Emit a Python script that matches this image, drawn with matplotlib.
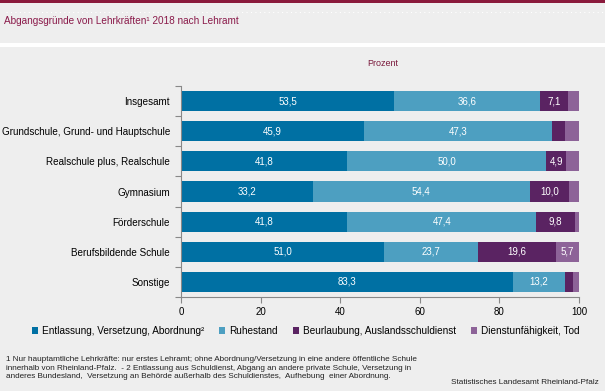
import matplotlib.pyplot as plt
import numpy as np

plt.rcParams["font.family"] = ["Liberation Sans", "DejaVu Sans"]

# Abgangsgruende nach Lehramt, Anteile in Prozent
categories = [
    "Insgesamt",
    "Grundschule, Grund- und Hauptschule",
    "Realschule plus, Realschule",
    "Gymnasium",
    "Förderschule",
    "Berufsbildende Schule",
    "Sonstige",
]
entlassung = [53.5, 45.9, 41.8, 33.2, 41.8, 51.0, 83.3]
ruhestand = [36.6, 47.3, 50.0, 54.4, 47.4, 23.7, 13.2]
beurlaubung = [7.1, 3.3, 4.9, 10.0, 9.8, 19.6, 2.0]
dienstunf = [2.8, 3.5, 3.3, 2.4, 1.0, 5.7, 1.5]

series_names = [
    "Entlassung, Versetzung, Abordnung²",
    "Ruhestand",
    "Beurlaubung, Auslandsschuldienst",
    "Dienstunfähigkeit, Tod",
]
colors = ["#0070a3", "#4d9fc1", "#5a2362", "#8d6398"]
bg = "#eeeeee"

fig = plt.figure(figsize=(6.05, 3.91), dpi=100)
fig.patch.set_facecolor(bg)

# header decoration: maroon top line, dotted line, white separator
fig.add_artist(plt.Rectangle((0, 1 - 2.5 / 391), 1, 2.5 / 391, transform=fig.transFigure,
                             color="#8a1a3c", lw=0))
fig.add_artist(plt.Line2D([0.01, 1], [1 - 12 / 391] * 2, transform=fig.transFigure,
                          color="white", lw=0.8, linestyle=(0, (1, 3))))
fig.add_artist(plt.Rectangle((0, 1 - 47 / 391), 1, 4 / 391, transform=fig.transFigure,
                             color="white", lw=0))

fig.text(4 / 605, 1 - 21 / 391, "Abgangsgründe von Lehrkräften¹ 2018 nach Lehramt",
         color="#8a1a4a", fontsize=7.2, va="center", ha="left")
fig.text(383 / 605, 1 - 63 / 391, "Prozent", color="#7a1a3c", fontsize=6.5, ha="center", va="center")

ax = fig.add_axes([181 / 605, 1 - 297 / 391, 398 / 605, 211 / 391])
ax.set_facecolor(bg)

data = [entlassung, ruhestand, beurlaubung, dienstunf]
y = np.arange(len(categories))
left = np.zeros(len(categories))
for vals, name, col in zip(data, series_names, colors):
    vals = np.array(vals)
    ax.barh(y, vals, left=left, height=0.67, color=col, label=name)
    for yi, (l, v) in enumerate(zip(left, vals)):
        if v >= 4.5:
            ax.text(l + v / 2, yi, f"{v:.1f}".replace(".", ","), color="white",
                    fontsize=7, ha="center", va="center")
    left += vals

ax.set_xlim(0, 100)
ax.set_ylim(len(categories) - 0.5, -0.5)
ax.set_xticks([0, 20, 40, 60, 80, 100])
ax.set_yticks(y)
ax.set_yticklabels(categories, fontsize=7.1)
ax.set_yticks(np.arange(-0.5, len(categories), 1), minor=True)
ax.tick_params(axis="y", which="major", length=0, pad=8)
ax.tick_params(axis="y", which="minor", length=4, color="#888888", width=0.8)
ax.tick_params(axis="x", labelsize=7, length=4, color="#888888", width=0.8, pad=3)
for s in ["top", "right"]:
    ax.spines[s].set_visible(False)
for s in ["left", "bottom"]:
    ax.spines[s].set_color("#888888")
    ax.spines[s].set_linewidth(0.8)

fig.legend(loc="center", bbox_to_anchor=(0.505, 1 - 331 / 391), ncol=4, frameon=False,
           fontsize=7.2, handlelength=0.6, handleheight=0.6, handletextpad=0.4,
           columnspacing=1.5)

foot = ("1 Nur hauptamtliche Lehrkräfte: nur erstes Lehramt; ohne Abordnung/Versetzung in eine andere öffentliche Schule\n"
        "innerhalb von Rheinland-Pfalz.  - 2 Entlassung aus Schuldienst, Abgang an andere private Schule, Versetzung in\n"
        "anderes Bundesland,  Versetzung an Behörde außerhalb des Schuldienstes,  Aufhebung  einer Abordnung.")
fig.text(6 / 605, 1 - 368 / 391, foot, fontsize=5.9, color="#222222", ha="left", va="center",
         linespacing=1.3)
fig.text(599 / 605, 1 - 382 / 391, "Statistisches Landesamt Rheinland-Pfalz", fontsize=5.9,
         color="#222222", ha="right", va="center")

fig.savefig("out.png", dpi=100, facecolor=bg)
